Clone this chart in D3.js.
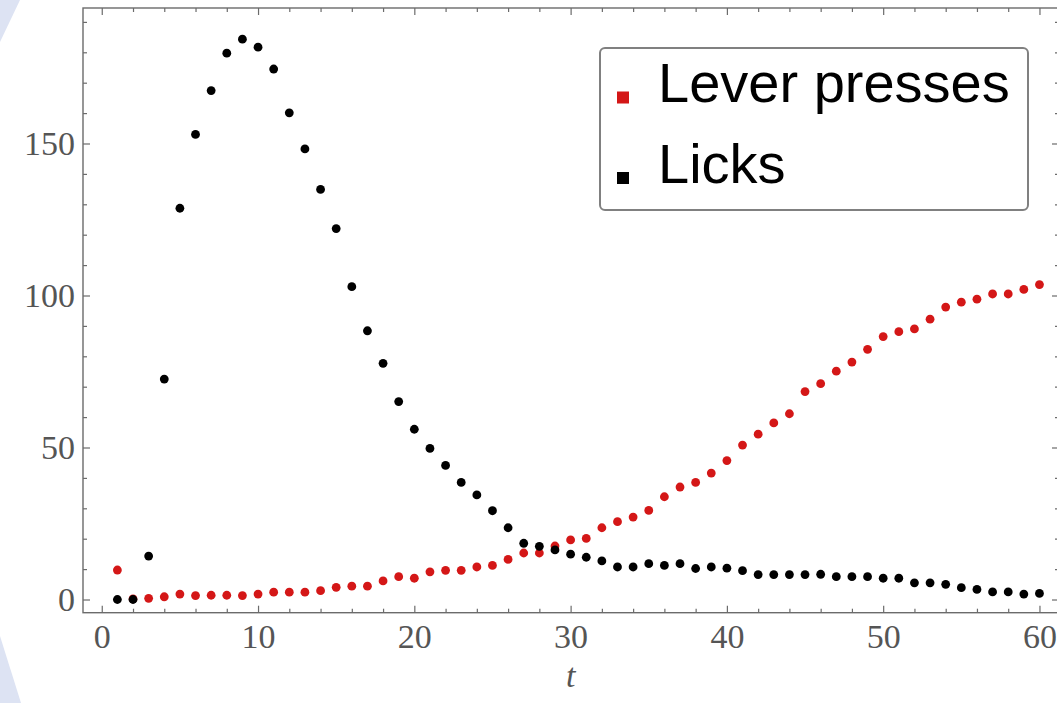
<!DOCTYPE html>
<html>
<head>
<meta charset="utf-8">
<script src="https://cdn.jsdelivr.net/npm/d3@7/dist/d3.min.js"></script>
<style>
  html, body { margin: 0; padding: 0; background: #ffffff; }
  svg { display: block; }
</style>
</head>
<body>
<svg id="chart" width="1057" height="703"></svg>
<script>
// ---- data ----
const t = d3.range(1, 61);
const leverPresses = [9.7, 0.2, 0.4, 0.9, 1.8, 1.3, 1.4, 1.4, 1.3, 1.8,
  2.4, 2.4, 2.4, 2.9, 4.0, 4.4, 4.4, 6.1, 7.5, 7.0,
  9.1, 9.6, 9.6, 10.7, 11.2, 13.2, 15.3, 15.3, 17.6, 19.6,
  20.1, 23.6, 25.6, 27.1, 29.3, 33.8, 37.0, 38.5, 41.6, 45.7,
  50.8, 54.4, 58.1, 61.1, 68.4, 71.0, 75.1, 78.1, 82.3, 86.5,
  88.1, 89.0, 92.2, 96.2, 97.8, 98.8, 100.5, 100.5, 102.0, 103.6];
const licks = [0, 0, 14.3, 72.5, 128.7, 153.0, 167.4, 179.7, 184.3, 181.7,
  174.5, 160.1, 148.2, 134.9, 122.0, 102.9, 88.4, 77.7, 65.1, 56.0,
  49.7, 44.1, 38.5, 34.4, 29.2, 23.6, 18.5, 17.5, 16.3, 14.9,
  13.9, 12.7, 10.7, 10.7, 11.8, 11.2, 11.8, 10.2, 10.7, 10.3,
  9.5, 8.2, 8.2, 8.2, 8.2, 8.3, 7.5, 7.5, 7.5, 7.0,
  7.0, 5.5, 5.5, 5.0, 3.9, 3.3, 2.5, 2.5, 1.8, 2.0];
const seriesNames = ["Lever presses", "Licks"];
const xMajorTicks = [0, 10, 20, 30, 40, 50, 60];
const xMinorTicks = d3.range(0, 62, 2).filter(v => v % 10 !== 0);
const yMajorTicks = [0, 50, 100, 150];
const yMinorTicks = d3.range(0, 195, 10).filter(v => v % 50 !== 0);
const xLabel = "t";

// ---- layout ----
const plotL = 83, plotR = 1059, plotT = 8, plotB = 612.7;
const svg = d3.select("#chart");

// decorative background shapes (left edge)
svg.append("path").attr("d", "M0,0 L20,0 L0,42 Z").attr("fill", "#dde3f3");
svg.append("path").attr("d", "M0,636 L21,703 L0,703 Z").attr("fill", "#dde3f3");

const x = d3.scaleLinear().domain([-1.2, 61.25]).range([plotL, plotR]);
const y = d3.scaleLinear().domain([-4.34, 194.57]).range([plotB, plotT]);

const frameColor = "#6b6b6b";
const labelColor = "#555555";
const tickFont = 34;

function styleAxis(g) {
  g.select(".domain").remove();
  g.selectAll(".tick line").attr("stroke", frameColor).attr("stroke-width", 1.2);
  g.selectAll(".tick text")
    .attr("fill", labelColor)
    .attr("font-family", "'Liberation Serif', 'Times New Roman', serif")
    .attr("font-size", tickFont);
}

// bottom
svg.append("g").attr("transform", `translate(0,${plotB})`)
  .call(d3.axisBottom(x).tickValues(xMajorTicks).tickSize(-7).tickPadding(11.5).tickFormat(d3.format("d")))
  .call(styleAxis);
svg.append("g").attr("transform", `translate(0,${plotB})`)
  .call(d3.axisBottom(x).tickValues(xMinorTicks).tickSize(-4).tickFormat(""))
  .call(styleAxis);
// top
svg.append("g").attr("transform", `translate(0,${plotT})`)
  .call(d3.axisTop(x).tickValues(xMajorTicks).tickSize(-7).tickFormat(""))
  .call(styleAxis);
svg.append("g").attr("transform", `translate(0,${plotT})`)
  .call(d3.axisTop(x).tickValues(xMinorTicks).tickSize(-4).tickFormat(""))
  .call(styleAxis);
// left
svg.append("g").attr("transform", `translate(${plotL},0)`)
  .call(d3.axisLeft(y).tickValues(yMajorTicks).tickSize(-7).tickPadding(8).tickFormat(d3.format("d")))
  .call(styleAxis);
svg.append("g").attr("transform", `translate(${plotL},0)`)
  .call(d3.axisLeft(y).tickValues(yMinorTicks).tickSize(-4).tickFormat(""))
  .call(styleAxis);
// right
svg.append("g").attr("transform", `translate(${plotR},0)`)
  .call(d3.axisRight(y).tickValues(yMajorTicks).tickSize(-7).tickFormat(""))
  .call(styleAxis);
svg.append("g").attr("transform", `translate(${plotR},0)`)
  .call(d3.axisRight(y).tickValues(yMinorTicks).tickSize(-4).tickFormat(""))
  .call(styleAxis);

// frame
svg.append("rect")
  .attr("x", plotL).attr("y", plotT)
  .attr("width", plotR - plotL).attr("height", plotB - plotT)
  .attr("fill", "none").attr("stroke", frameColor).attr("stroke-width", 1.4);

// x label
svg.append("text")
  .attr("x", x(30)).attr("y", 687)
  .attr("text-anchor", "middle")
  .attr("font-family", "'Liberation Serif', 'Times New Roman', serif")
  .attr("font-style", "italic")
  .attr("font-size", tickFont)
  .attr("fill", labelColor)
  .text(xLabel);

// data
const colors = ["#d41717", "#000000"];
const series = [leverPresses, licks];
series.forEach((vals, i) => {
  svg.append("g").selectAll("circle")
    .data(vals.map((v, j) => [t[j], v]))
    .join("circle")
    .attr("cx", d => x(d[0]))
    .attr("cy", d => y(d[1]))
    .attr("r", 4.4)
    .attr("fill", colors[i]);
});

// legend
const lg = svg.append("g");
lg.append("rect")
  .attr("x", 600).attr("y", 48).attr("width", 428).attr("height", 162)
  .attr("rx", 5).attr("ry", 5)
  .attr("fill", "#ffffff").attr("stroke", "#808080").attr("stroke-width", 2);
seriesNames.forEach((name, i) => {
  const by = 102 + i * 80.5;
  lg.append("rect")
    .attr("x", 617).attr("y", by - 10.5).attr("width", 12).attr("height", 12)
    .attr("fill", colors[i]);
  lg.append("text")
    .attr("x", 658).attr("y", by)
    .attr("font-family", "'Liberation Sans', Arial, sans-serif")
    .attr("font-size", 56)
    .attr("fill", "#000000")
    .text(name);
});
</script>
</body>
</html>
